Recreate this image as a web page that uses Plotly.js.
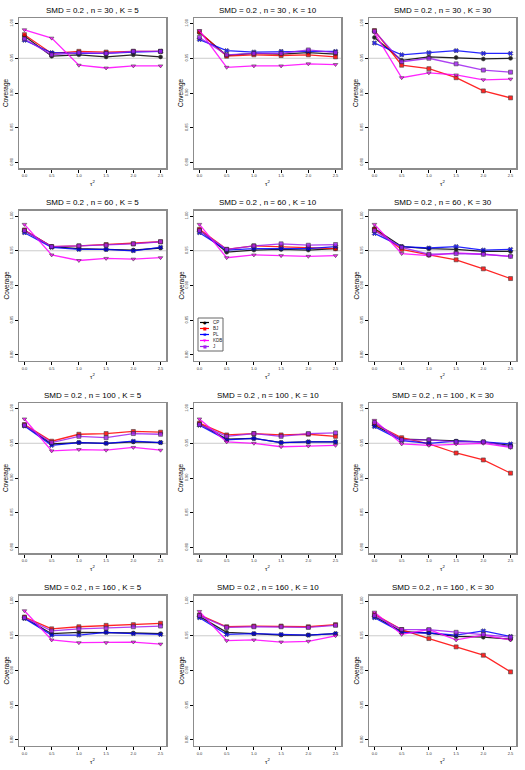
<!DOCTYPE html>
<html>
<head>
<meta charset="utf-8">
<script src="https://cdn.plot.ly/plotly-3.0.1.min.js"></script>
<style>
  body { margin: 0; background: #fff; }
  #chart { width: 525px; height: 770px; }
</style>
</head>
<body>
<div id="chart"></div>
<script>
// tau^2 grid
var tau2 = [0.0, 0.5, 1.0, 1.5, 2.0, 2.5];

// panel settings, row by row
var nVals = [30, 30, 30, 60, 60, 60, 100, 100, 100, 160, 160, 160];
var kVals = [5, 10, 30, 5, 10, 30, 5, 10, 30, 5, 10, 30];

// coverage per method, one row per panel
var cp = [
  [0.982, 0.953, 0.955, 0.952, 0.955, 0.952],
  [0.987, 0.954, 0.957, 0.956, 0.958, 0.956],
  [0.980, 0.947, 0.952, 0.951, 0.949, 0.950],
  [0.979, 0.956, 0.953, 0.952, 0.951, 0.954],
  [0.980, 0.948, 0.951, 0.952, 0.951, 0.953],
  [0.982, 0.956, 0.953, 0.952, 0.949, 0.949],
  [0.976, 0.949, 0.951, 0.950, 0.952, 0.951],
  [0.978, 0.956, 0.957, 0.951, 0.952, 0.952],
  [0.976, 0.956, 0.955, 0.953, 0.952, 0.947],
  [0.976, 0.953, 0.955, 0.955, 0.954, 0.953],
  [0.978, 0.955, 0.953, 0.951, 0.951, 0.953],
  [0.978, 0.956, 0.954, 0.949, 0.948, 0.945]
];
var bj = [
  [0.984, 0.957, 0.960, 0.959, 0.960, 0.960],
  [0.988, 0.953, 0.955, 0.954, 0.955, 0.952],
  [0.990, 0.940, 0.935, 0.922, 0.903, 0.893],
  [0.980, 0.956, 0.957, 0.959, 0.960, 0.963],
  [0.981, 0.952, 0.957, 0.956, 0.955, 0.953],
  [0.981, 0.952, 0.944, 0.937, 0.924, 0.910],
  [0.977, 0.953, 0.963, 0.964, 0.967, 0.966],
  [0.979, 0.962, 0.964, 0.962, 0.963, 0.960],
  [0.978, 0.958, 0.949, 0.936, 0.926, 0.907],
  [0.977, 0.960, 0.963, 0.965, 0.966, 0.968],
  [0.980, 0.963, 0.964, 0.964, 0.963, 0.966],
  [0.981, 0.959, 0.946, 0.934, 0.922, 0.898]
];
var pl = [
  [0.976, 0.958, 0.957, 0.957, 0.959, 0.960],
  [0.977, 0.961, 0.959, 0.960, 0.960, 0.960],
  [0.972, 0.955, 0.958, 0.961, 0.957, 0.957],
  [0.976, 0.955, 0.952, 0.952, 0.950, 0.955],
  [0.976, 0.951, 0.953, 0.953, 0.953, 0.956],
  [0.975, 0.956, 0.954, 0.956, 0.951, 0.952],
  [0.975, 0.947, 0.951, 0.950, 0.953, 0.951],
  [0.976, 0.955, 0.957, 0.951, 0.952, 0.952],
  [0.974, 0.954, 0.950, 0.953, 0.952, 0.949],
  [0.975, 0.951, 0.951, 0.955, 0.953, 0.952],
  [0.976, 0.952, 0.953, 0.952, 0.951, 0.953],
  [0.976, 0.955, 0.954, 0.951, 0.957, 0.949]
];
var kdb = [
  [0.991, 0.979, 0.940, 0.936, 0.939, 0.939],
  [0.990, 0.937, 0.939, 0.939, 0.942, 0.941],
  [0.987, 0.922, 0.929, 0.926, 0.919, 0.920],
  [0.988, 0.944, 0.936, 0.939, 0.938, 0.940],
  [0.988, 0.940, 0.944, 0.943, 0.942, 0.943],
  [0.988, 0.946, 0.943, 0.947, 0.945, 0.942],
  [0.985, 0.939, 0.941, 0.940, 0.944, 0.940],
  [0.985, 0.952, 0.950, 0.945, 0.946, 0.947],
  [0.983, 0.949, 0.947, 0.949, 0.950, 0.944],
  [0.986, 0.944, 0.940, 0.940, 0.941, 0.938],
  [0.985, 0.943, 0.944, 0.941, 0.942, 0.950],
  [0.984, 0.952, 0.959, 0.944, 0.951, 0.944]
];
var jj = [
  [0.978, 0.955, 0.958, 0.957, 0.960, 0.960],
  [0.980, 0.955, 0.957, 0.957, 0.962, 0.958],
  [0.989, 0.945, 0.950, 0.942, 0.933, 0.930],
  [0.979, 0.956, 0.957, 0.958, 0.960, 0.963],
  [0.979, 0.952, 0.957, 0.960, 0.958, 0.959],
  [0.979, 0.955, 0.945, 0.946, 0.945, 0.942],
  [0.976, 0.951, 0.960, 0.958, 0.964, 0.963],
  [0.977, 0.960, 0.964, 0.960, 0.964, 0.965],
  [0.980, 0.955, 0.955, 0.952, 0.952, 0.945],
  [0.976, 0.957, 0.960, 0.961, 0.963, 0.964],
  [0.979, 0.962, 0.963, 0.963, 0.962, 0.965],
  [0.979, 0.959, 0.959, 0.955, 0.952, 0.948]
];

var methods = [
  {name: 'CP',  vals: cp,  color: '#000000', symbol: 'circle',        glyph: '\u25CF'},
  {name: 'BJ',  vals: bj,  color: '#ff0000', symbol: 'square',        glyph: '\u25A0'},
  {name: 'PL',  vals: pl,  color: '#0000ff', symbol: 'x',             glyph: '\u2716'},
  {name: 'KDB', vals: kdb, color: '#ff00ff', symbol: 'triangle-down', glyph: '\u25BC'},
  {name: 'J',   vals: jj,  color: '#a020f0', symbol: 'square',        glyph: '\u25A0'}
];

function drawPanels(){
  var W = 525, H = 770;
  var rowH = 192.5, colW = 175;
  var font = 'Liberation Sans, Arial, sans-serif';

  var pdata = [];
  var layout = {
    width: W, height: H,
    margin: {l: 0, r: 0, t: 0, b: 0},
    paper_bgcolor: '#fff', plot_bgcolor: '#fff',
    font: {family: font, color: '#000'},
    showlegend: false,
    annotations: [],
    shapes: []
  };

  for (var p = 0; p < 12; p++) {
    var r = Math.floor(p / 3), c = p % 3;
    var ax = p === 0 ? '' : String(p + 1);
    var yTop = 18 + r * rowH, yBot = 168 + r * rowH;
    var xLeft = 19 + c * colW, xRight = 166 + c * colW;

    layout['xaxis' + ax] = {
      domain: [xLeft / W, xRight / W],
      anchor: 'y' + ax,
      range: [-0.1, 2.6],
      tickvals: tau2,
      ticktext: tau2.map(function(v){ return v.toFixed(1); }),
      ticks: 'outside', ticklen: 3, tickcolor: '#000',
      tickfont: {size: 4, color: '#333'},
      showgrid: false, zeroline: false,
      showline: true, linecolor: '#8c8c8c', linewidth: 1.5, mirror: true
    };
    layout['yaxis' + ax] = {
      domain: [1 - yBot / H, 1 - yTop / H],
      anchor: 'x' + ax,
      range: [0.792, 1.008],
      tickvals: [0.80, 0.85, 0.90, 0.95, 1.00],
      ticktext: ['0.80', '0.85', '0.90', '0.95', '1.00'],
      tickangle: -90,
      ticks: 'outside', ticklen: 3, tickcolor: '#000',
      tickfont: {size: 4, color: '#333'},
      showgrid: false, zeroline: false,
      showline: true, linecolor: '#8c8c8c', linewidth: 1.5, mirror: true
    };

    // nominal level line
    layout.shapes.push({
      type: 'line', xref: 'x' + ax + ' domain', yref: 'y' + ax,
      x0: 0, x1: 1, y0: 0.95, y1: 0.95,
      line: {color: '#cccccc', width: 1}, layer: 'below'
    });

    // panel title and axis labels
    layout.annotations.push({
      text: 'SMD = 0.2 , n = ' + nVals[p] + ' , K = ' + kVals[p],
      xref: 'paper', yref: 'paper',
      x: (xLeft + xRight) / 2 / W, y: 1 - (10 + r * rowH) / H,
      xanchor: 'center', yanchor: 'middle', showarrow: false,
      font: {size: 8, family: font}
    });
    layout.annotations.push({
      text: 'Coverage', textangle: -90,
      xref: 'paper', yref: 'paper',
      x: (6 + c * colW) / W, y: 1 - ((yTop + yBot) / 2) / H,
      xanchor: 'center', yanchor: 'middle', showarrow: false,
      font: {size: 6.5, family: font}
    });
    layout.annotations.push({
      text: '\u03c4<sup>2</sup>',
      xref: 'paper', yref: 'paper',
      x: (xLeft + xRight) / 2 / W, y: 1 - (183 + r * rowH) / H,
      xanchor: 'center', yanchor: 'middle', showarrow: false,
      font: {size: 6, family: font}
    });

    methods.forEach(function(m) {
      pdata.push({
        x: tau2,
        y: m.vals[p],
        type: 'scatter',
        mode: 'lines+markers',
        name: m.name,
        xaxis: 'x' + ax, yaxis: 'y' + ax,
        line: {color: m.color, width: 1.3},
        marker: {symbol: m.symbol, size: 4, color: m.color,
                 line: {color: '#222', width: 0.6}},
        opacity: 0.85
      });
    });
  }

  // small R-style legend box inside the n = 60, K = 10 panel
  var lgX0 = 198, lgY0 = 318, lgX1 = 223, lgY1 = 351;
  layout.shapes.push({
    type: 'rect', xref: 'paper', yref: 'paper',
    x0: lgX0 / W, x1: lgX1 / W, y0: 1 - lgY1 / H, y1: 1 - lgY0 / H,
    line: {color: '#666', width: 1}, fillcolor: '#fff'
  });
  methods.forEach(function(m, i) {
    var yy = 1 - (lgY0 + 4.5 + i * 6) / H;
    layout.shapes.push({
      type: 'line', xref: 'paper', yref: 'paper',
      x0: (lgX0 + 2) / W, x1: (lgX0 + 11) / W, y0: yy, y1: yy,
      line: {color: m.color, width: 1.2}
    });
    layout.annotations.push({
      text: m.glyph, xref: 'paper', yref: 'paper',
      x: (lgX0 + 6.5) / W, y: yy, xanchor: 'center', yanchor: 'middle',
      showarrow: false, font: {size: 4, color: m.color, family: 'DejaVu Sans'}
    });
    layout.annotations.push({
      text: m.name, xref: 'paper', yref: 'paper',
      x: (lgX0 + 13) / W, y: yy, xanchor: 'left', yanchor: 'middle',
      showarrow: false, font: {size: 4.5, color: '#222', family: font}
    });
  });

  Plotly.newPlot('chart', pdata, layout, {staticPlot: true});
}

drawPanels();
</script>
</body>
</html>
